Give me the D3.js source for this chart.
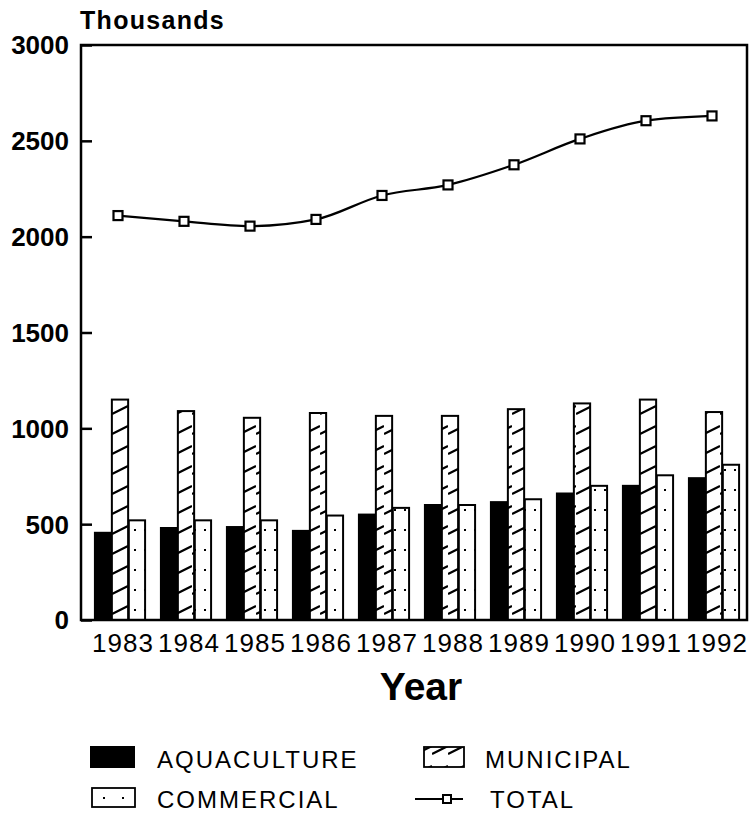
<!DOCTYPE html>
<html><head><meta charset="utf-8">
<script src="https://cdn.jsdelivr.net/npm/d3@7"></script>
<style>body{margin:0;background:#fff}svg{display:block;font-family:"Liberation Sans",Arial,sans-serif}</style>
</head><body><svg id="c" width="750" height="815"></svg>
<script>
const years = ["1983","1984","1985","1986","1987","1988","1989","1990","1991","1992"];
const aquaculture = [455, 480, 485, 465, 550, 600, 615, 660, 700, 740];
const municipal = [1150, 1090, 1055, 1080, 1065, 1065, 1100, 1130, 1150, 1085];
const commercial = [520, 520, 520, 545, 585, 600, 630, 700, 755, 810];
const total = [2110, 2080, 2055, 2090, 2215, 2270, 2375, 2510, 2605, 2630];
const yTicks = [0, 500, 1000, 1500, 2000, 2500, 3000];
const seriesKeys = ["aquaculture", "municipal", "commercial"];
const legendLabels = ["AQUACULTURE", "MUNICIPAL", "COMMERCIAL", "TOTAL"];

const svg = d3.select("#c");
const L = 81, R = 747, T = 45, B = 620;
const defs = svg.append("defs");
const hatch = defs.append("pattern").attr("id","hatch").attr("patternUnits","userSpaceOnUse")
  .attr("width",16).attr("height",20);
hatch.append("rect").attr("width",16).attr("height",20).attr("fill","#fff");
hatch.append("path").attr("d","M0,14 L16,6").attr("stroke","#000").attr("stroke-width",2.2);
const dots = defs.append("pattern").attr("id","dots").attr("patternUnits","userSpaceOnUse")
  .attr("width",10).attr("height",20);
dots.append("rect").attr("width",10).attr("height",20).attr("fill","#fff");
dots.append("rect").attr("x",4).attr("y",9).attr("width",2).attr("height",2).attr("fill","#000");

const x0 = d3.scaleBand().domain(years).range([87, 747]).paddingInner(0.24).paddingOuter(0.12);
const x1 = d3.scaleBand().domain(seriesKeys).range([0, x0.bandwidth()]).paddingInner(0.04);
const y = d3.scaleLinear().domain([0, 3000]).range([B, T]);
const data = {aquaculture, municipal, commercial};
const fills = {aquaculture:"#000", municipal:"url(#hatch)", commercial:"url(#dots)"};

// bars
seriesKeys.forEach(k => {
  svg.append("g").selectAll("rect").data(years).join("rect")
    .attr("x", d => x0(d) + x1(k))
    .attr("y", (d,i) => y(data[k][i]))
    .attr("width", x1.bandwidth())
    .attr("height", (d,i) => y(0) - y(data[k][i]))
    .attr("fill", fills[k]).attr("stroke","#000").attr("stroke-width",2);
});

// frame
svg.append("rect").attr("x",L).attr("y",T).attr("width",R-L).attr("height",B-T)
  .attr("fill","none").attr("stroke","#000").attr("stroke-width",2.5);

// y axis
const yAxis = d3.axisRight(y).tickValues(yTicks).tickSize(11).tickFormat("");
const ga = svg.append("g").attr("transform",`translate(${L},0)`).call(yAxis);
ga.select(".domain").remove();
ga.selectAll("line").attr("stroke","#000").attr("stroke-width",2.5);
svg.append("g").selectAll("text").data(yTicks).join("text")
  .attr("x", 69).attr("y", d => y(d)).attr("dy","0.36em").attr("text-anchor","end")
  .attr("font-size",26).attr("font-weight","bold").text(d => d);
svg.append("text").attr("x",80).attr("y",29).attr("font-size",25).attr("font-weight","bold")
  .attr("letter-spacing",1.3).text("Thousands");

// x labels
svg.append("g").selectAll("text").data(years).join("text")
  .attr("x", d => x0(d) + x0.bandwidth()/2 + 3).attr("y", 652).attr("text-anchor","middle")
  .attr("font-size",26).attr("letter-spacing",1).text(d => d);
svg.append("text").attr("x",421).attr("y",700).attr("text-anchor","middle")
  .attr("font-size",39).attr("font-weight","bold").text("Year");

// total line
const pts = years.map((d,i) => [x0(d) + x0.bandwidth()/2 - 2, y(total[i])]);
svg.append("path").attr("d", d3.line().curve(d3.curveMonotoneX)(pts))
  .attr("fill","none").attr("stroke","#000").attr("stroke-width",2.2);
svg.append("g").selectAll("rect").data(pts).join("rect")
  .attr("x", p => p[0]-4.5).attr("y", p => p[1]-4.5).attr("width",9).attr("height",9)
  .attr("fill","#fff").attr("stroke","#000").attr("stroke-width",2.2);

// legend
const lg = svg.append("g").attr("font-size",24).attr("letter-spacing",2);
lg.append("rect").attr("x",90).attr("y",746).attr("width",45).attr("height",22).attr("fill","#000");
lg.append("text").attr("x",157).attr("y",768).text(legendLabels[0]);
lg.append("rect").attr("x",424).attr("y",747).attr("width",40).attr("height",20).attr("fill","url(#hatch)").attr("stroke","#000").attr("stroke-width",1.8);
lg.append("text").attr("x",485).attr("y",768).text(legendLabels[1]);
lg.append("rect").attr("x",92).attr("y",788).attr("width",43).attr("height",19).attr("fill","#fff").attr("stroke","#000").attr("stroke-width",1.8);
lg.selectAll(".ld").data([103,122]).join("rect").attr("x",d=>d).attr("y",797).attr("width",2).attr("height",2).attr("fill","#000");
lg.append("text").attr("x",157).attr("y",808).text(legendLabels[2]);
lg.append("line").attr("x1",415).attr("x2",463).attr("y1",799).attr("y2",799).attr("stroke","#000").attr("stroke-width",2);
lg.append("rect").attr("x",443).attr("y",795).attr("width",8).attr("height",8).attr("fill","#fff").attr("stroke","#000").attr("stroke-width",2);
lg.append("text").attr("x",490).attr("y",808).text(legendLabels[3]);
</script></body></html>
